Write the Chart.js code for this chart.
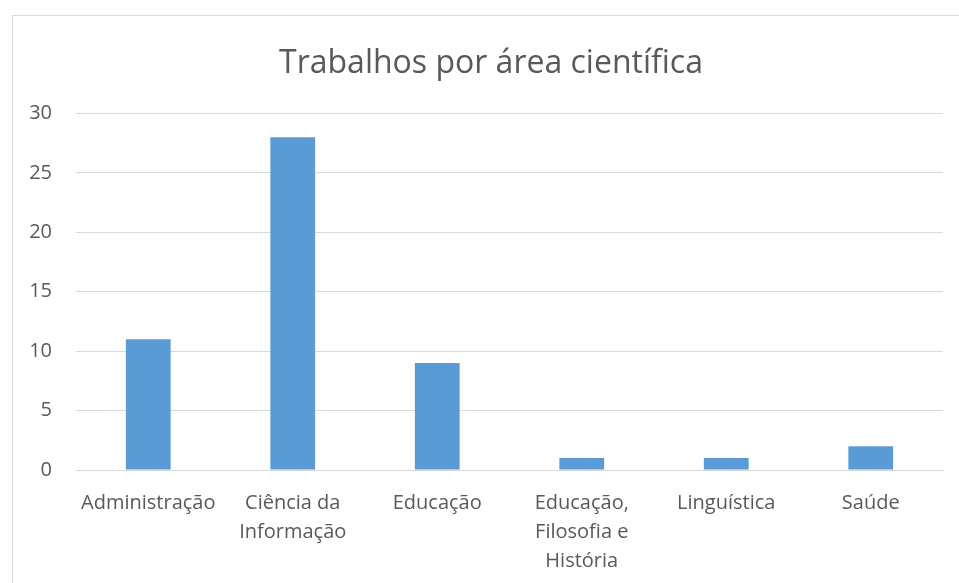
<!DOCTYPE html>
<html>
<head>
<meta charset="utf-8">
<script src="https://cdn.jsdelivr.net/npm/chart.js@4"></script>
<style>
  html, body { margin: 0; padding: 0; background: #fff; }
  #wrap { position: relative; width: 959px; height: 583px; overflow: hidden; }
  #frame { position: absolute; left: 12px; top: 15px; width: 960px; height: 600px; border: 1px solid #d9d9d9; box-sizing: border-box; }
  canvas { position: absolute; left: 0; top: 0; }
</style>
</head>
<body>
<div id="wrap">
  <div id="frame"></div>
  <canvas id="c" width="959" height="583"></canvas>
</div>
<script>
const categories = [
  "Administração",
  ["Ciência da", "Informação"],
  "Educação",
  ["Educação,", "Filosofia e", "História"],
  "Linguística",
  "Saúde"
];
const values = [11, 28, 9, 1, 1, 2];
const yTicks = { min: 0, max: 30, step: 5 };
const chartTitle = "Trabalhos por área científica";

const FONT = "'Open Sans', 'Noto Sans', sans-serif";
const TEXT = "#595959";
const GRID = "#d9d9d9";

// shift the title's layout box so it is centred like the reference
const titleShift = {
  id: "titleShift",
  afterLayout(chart) {
    if (chart.titleBlock) chart.titleBlock.left = 39;
  }
};

new Chart(document.getElementById("c"), {
  type: "bar",
  data: {
    labels: categories,
    datasets: [{
      data: values,
      backgroundColor: "#5b9bd5",
      borderWidth: 0,
      barPercentage: 0.31,
      categoryPercentage: 1.0
    }]
  },
  plugins: [titleShift],
  options: {
    responsive: false,
    animation: false,
    devicePixelRatio: 1,
    layout: { padding: { left: 16, right: 16, top: 0, bottom: 0 } },
    plugins: {
      legend: { display: false },
      tooltip: { enabled: false },
      title: {
        display: true,
        text: chartTitle,
        color: TEXT,
        font: { family: FONT, size: 32, weight: "normal", lineHeight: 1.2 },
        padding: { top: 45, bottom: 30 }
      }
    },
    scales: {
      x: {
        grid: { display: false, drawTicks: false },
        border: { display: true, color: GRID, width: 1 },
        ticks: {
          color: TEXT,
          font: { family: FONT, size: 20, lineHeight: 1.45 },
          padding: 19,
          maxRotation: 0,
          autoSkip: false
        },
        afterFit: (s) => { s.height = 113; }
      },
      y: {
        min: yTicks.min,
        max: yTicks.max,
        grid: { color: GRID, lineWidth: 1, drawTicks: false },
        border: { display: false },
        ticks: {
          stepSize: yTicks.step,
          color: TEXT,
          font: { family: FONT, size: 20 },
          padding: 24
        },
        afterFit: (s) => { s.width = 60; }
      }
    }
  }
});
</script>
</body>
</html>
